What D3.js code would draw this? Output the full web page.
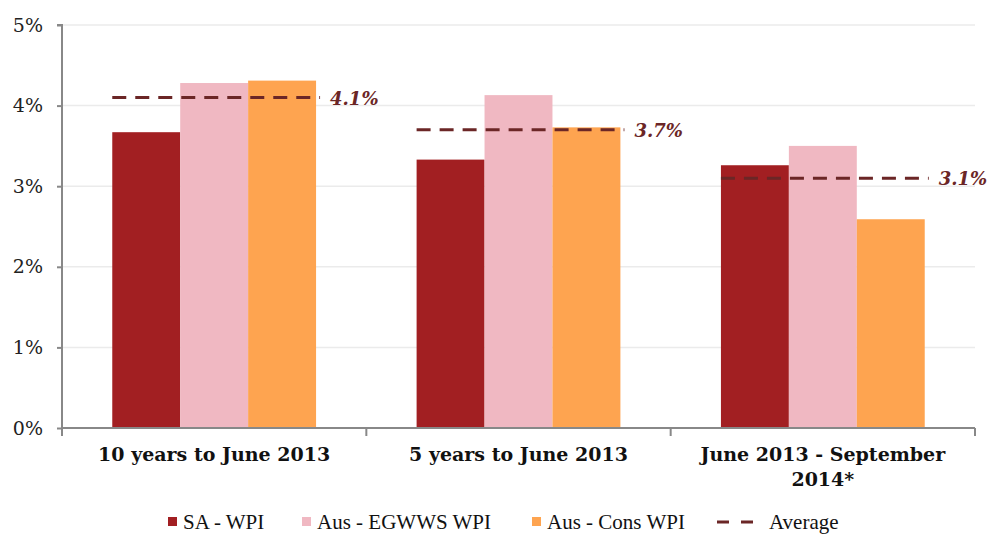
<!DOCTYPE html>
<html>
<head>
<meta charset="utf-8">
<script src="https://cdn.jsdelivr.net/npm/d3@7"></script>
<style>
  body { margin: 0; background: #fff; }
  text { font-family: "DejaVu Serif", Georgia, serif; }
</style>
</head>
<body>
<script>
const width = 992;
const height = 535;

// data
const periods = ['10 years to June 2013', '5 years to June 2013', 'June 2013 - September 2014*'];
const seriesNames = ['SA - WPI', 'Aus - EGWWS WPI', 'Aus - Cons WPI'];
const saWpi = [3.67, 3.33, 3.26];
const egwwsWpi = [4.28, 4.13, 3.50];
const consWpi = [4.31, 3.73, 2.59];
const averages = [4.1, 3.7, 3.1];
const yTicks = [0, 1, 2, 3, 4, 5];

const colors = ['#a21f22', '#f0b8c2', '#fea450'];
const avgColor = '#6b2626';

const margin = { top: 25, right: 17, bottom: 107, left: 62 };

const svg = d3.select('body').append('svg')
  .attr('width', width)
  .attr('height', height);

const x = d3.scaleBand()
  .domain(periods)
  .range([margin.left, width - margin.right]);

const xInner = d3.scaleBand()
  .domain(seriesNames)
  .range([0, x.bandwidth()])
  .paddingOuter(0.74)
  .paddingInner(0);

const y = d3.scaleLinear()
  .domain([0, 5])
  .range([height - margin.bottom, margin.top]);

// gridlines
svg.append('g')
  .selectAll('line')
  .data(yTicks.filter(d => d > 0))
  .join('line')
    .attr('x1', margin.left)
    .attr('x2', width - margin.right)
    .attr('y1', d => y(d))
    .attr('y2', d => y(d))
    .attr('stroke', '#ebebeb')
    .attr('stroke-width', 1.5);

const table = periods.map((p, i) => ({
  period: p,
  values: [saWpi[i], egwwsWpi[i], consWpi[i]]
}));

const groups = svg.append('g')
  .selectAll('g')
  .data(table)
  .join('g')
    .attr('transform', d => `translate(${x(d.period)},0)`);

groups.selectAll('rect')
  .data(d => d.values.map((v, j) => ({ name: seriesNames[j], value: v, j })))
  .join('rect')
    .attr('x', d => xInner(d.name))
    .attr('width', xInner.bandwidth())
    .attr('y', d => y(d.value))
    .attr('height', d => y(0) - y(d.value))
    .attr('fill', d => colors[d.j]);

// average dashed lines
groups.append('line')
  .attr('x1', xInner(seriesNames[0]))
  .attr('x2', xInner(seriesNames[2]) + xInner.bandwidth() + 4)
  .attr('y1', (d, i) => y(averages[i]))
  .attr('y2', (d, i) => y(averages[i]))
  .attr('stroke', avgColor)
  .attr('stroke-width', 3)
  .attr('stroke-dasharray', '14,9');

groups.append('text')
  .attr('x', xInner(seriesNames[2]) + xInner.bandwidth() + 14)
  .attr('y', (d, i) => y(averages[i]) + 7)
  .attr('fill', avgColor)
  .attr('font-size', 18)
  .attr('font-weight', 'bold')
  .attr('font-style', 'italic')
  .text((d, i) => d3.format('.1f')(averages[i]) + '%');

// y axis
const yAxis = svg.append('g')
  .attr('transform', `translate(${margin.left},0)`)
  .call(d3.axisLeft(y).tickValues(yTicks).tickFormat(d => d + '%').tickSize(5).tickPadding(14));
yAxis.select('.domain').attr('stroke', '#888').attr('stroke-width', 2).attr('d', `M-5,${y(5)}H0V${y(0)}`);
yAxis.selectAll('.tick line').attr('stroke', '#888').attr('stroke-width', 2);
yAxis.selectAll('.tick text').attr('font-size', 19).attr('fill', '#222')
  .style('font-family', '"DejaVu Serif", Georgia, serif');

// x axis
const xAxisG = svg.append('g')
  .attr('transform', `translate(0,${y(0)})`);
xAxisG.append('line')
  .attr('x1', margin.left)
  .attr('x2', width - margin.right)
  .attr('stroke', '#888')
  .attr('stroke-width', 2);
const bounds = periods.map(p => x(p)).concat([x(periods[2]) + x.bandwidth()]);
xAxisG.selectAll('.tk')
  .data(bounds)
  .join('line')
    .attr('class', 'tk')
    .attr('x1', d => d)
    .attr('x2', d => d)
    .attr('y1', 0)
    .attr('y2', 8)
    .attr('stroke', '#888')
    .attr('stroke-width', 2);

const catLines = [['10 years to June 2013'], ['5 years to June 2013'], ['June 2013 - September', '2014*']];
xAxisG.selectAll('.cat')
  .data(periods)
  .join('text')
    .attr('class', 'cat')
    .attr('text-anchor', 'middle')
    .attr('font-size', 19)
    .attr('font-weight', 'bold')
    .attr('fill', '#111')
    .each(function (d, i) {
      const t = d3.select(this);
      catLines[i].forEach((line, k) => {
        t.append('tspan')
          .attr('x', x(d) + x.bandwidth() / 2)
          .attr('y', 33 + k * 25)
          .text(line);
      });
    });

// legend
const legendItems = [
  { label: seriesNames[0], x: 168, type: 'box', color: colors[0] },
  { label: seriesNames[1], x: 302, type: 'box', color: colors[1] },
  { label: seriesNames[2], x: 532, type: 'box', color: colors[2] },
  { label: 'Average', x: 717, type: 'dash', color: avgColor }
];
const legend = svg.append('g').attr('transform', 'translate(0,529)');
const li = legend.selectAll('g')
  .data(legendItems)
  .join('g')
    .attr('transform', d => `translate(${d.x},0)`);
li.filter(d => d.type === 'box').append('rect')
  .attr('x', 0).attr('y', -12).attr('width', 9).attr('height', 9)
  .attr('fill', d => d.color);
li.filter(d => d.type === 'dash').append('line')
  .attr('x1', 0).attr('x2', 36).attr('y1', -7).attr('y2', -7)
  .attr('stroke', d => d.color).attr('stroke-width', 3)
  .attr('stroke-dasharray', '12,12');
li.append('text')
  .attr('x', d => d.type === 'box' ? 15 : 52)
  .attr('y', 0)
  .attr('font-size', 21)
  .attr('fill', '#111')
  .style('font-family', '"Liberation Serif", "Times New Roman", serif')
  .text(d => d.label);
</script>
</body>
</html>
